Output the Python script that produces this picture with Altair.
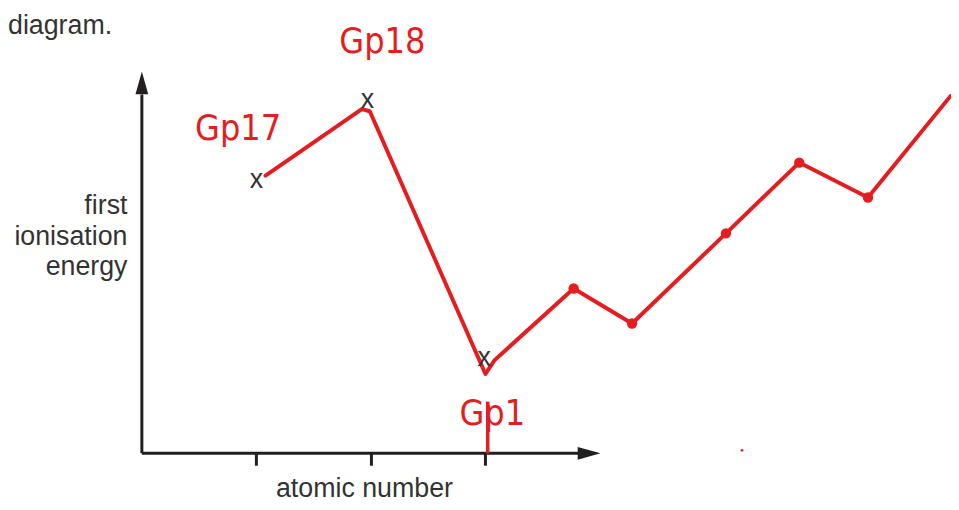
import altair as alt
import pandas as pd

# ---- data (x in atomic-number steps from the origin, y in arbitrary energy units) ----
cross_x = [1.0, 1.97, 2.99]
cross_y = [6.32, 8.16, 2.19]

red_x = [1.08, 1.92, 1.99, 3.00, 3.08, 3.77, 4.28, 5.10, 5.74, 6.34, 7.06]
red_y = [6.44, 7.98, 7.93, 1.84, 2.16, 3.82, 3.01, 5.10, 6.74, 5.93, 8.28]

dot_x = [3.77, 4.28, 5.10, 5.74, 6.34]
dot_y = [3.82, 3.01, 5.10, 6.74, 5.93]

labels = ["Gp17", "Gp18", "Gp1"]
label_x = [0.84, 2.10, 3.06]
label_y = [7.52, 9.54, 0.92]

tick_values = [1, 2, 3]
x_axis_end = 3.81
y_axis_end = 8.32
x_arrow = 3.905
y_arrow = 8.59

RED = "#e41e20"
INK = "#231f20"
TXT = "#333333"
FONT = "Liberation Sans"
HAND = "Liberation Sans Narrow, DejaVu Sans Condensed, DejaVu Sans, sans-serif"

xs = alt.Scale(domain=[0, 7.065], nice=False, zero=False)
ys = alt.Scale(domain=[0, 10], nice=False, zero=False)

df_cross = pd.DataFrame({"x": cross_x, "y": cross_y, "t": ["x"] * len(cross_x)})
df_red = pd.DataFrame({"x": red_x, "y": red_y, "i": list(range(len(red_x)))})
df_dot = pd.DataFrame({"x": dot_x, "y": dot_y})
df_lab = pd.DataFrame({"x": label_x, "y": label_y, "t": labels})

df_xaxis = pd.DataFrame({"x": [0.0], "x2": [x_axis_end], "y": [0.0]})
df_yaxis = pd.DataFrame({"x": [0.0], "y": [0.0], "y2": [y_axis_end]})

x_axis = alt.Axis(values=tick_values, domain=False, labels=False, grid=False,
                  ticks=True, tickSize=12, tickWidth=3, tickColor=INK,
                  title="atomic number", titleFont=FONT, titleFontSize=27,
                  titleFontWeight="normal", titleColor=TXT,
                  titleX=224, titleY=44, titleAnchor="middle", titleAlign="center",
                  titleBaseline="alphabetic")
y_axis = alt.Axis(domain=False, labels=False, ticks=False, grid=False,
                  title=["first", "ionisation", "energy"], titleFont=FONT,
                  titleFontSize=27, titleFontWeight="normal", titleColor=TXT,
                  titleAngle=0, titleAlign="right", titleBaseline="alphabetic",
                  titleX=-15, titleY=193, titleLineHeight=31)

xaxis_rule = alt.Chart(df_xaxis).mark_rule(color=INK, strokeWidth=3).encode(
    x=alt.X("x:Q", scale=xs, axis=x_axis), x2="x2:Q",
    y=alt.Y("y:Q", scale=ys, axis=y_axis))
yaxis_rule = alt.Chart(df_yaxis).mark_rule(color=INK, strokeWidth=3).encode(
    x=alt.X("x:Q", scale=xs), y=alt.Y("y:Q", scale=ys), y2="y2:Q")

arrow_x = alt.Chart(pd.DataFrame({"x": [x_arrow], "y": [0.0]})).mark_point(
    shape="M1,0L-1,-0.56L-1,0.56Z", filled=True, color=INK, size=529,
    opacity=1, strokeWidth=0).encode(
    x=alt.X("x:Q", scale=xs), y=alt.Y("y:Q", scale=ys))
arrow_y = alt.Chart(pd.DataFrame({"x": [0.0], "y": [y_arrow]})).mark_point(
    shape="M0,-1L0.56,1L-0.56,1Z", filled=True, color=INK, size=529,
    opacity=1, strokeWidth=0).encode(
    x=alt.X("x:Q", scale=xs), y=alt.Y("y:Q", scale=ys))

crosses = alt.Chart(df_cross).mark_text(font=FONT, fontSize=27, color=TXT,
                                        baseline="alphabetic", dy=7).encode(
    x=alt.X("x:Q", scale=xs), y=alt.Y("y:Q", scale=ys), text="t:N")

red_line = alt.Chart(df_red).mark_line(color=RED, strokeWidth=4, clip=True,
                                       strokeCap="round", strokeJoin="round").encode(
    x=alt.X("x:Q", scale=xs), y=alt.Y("y:Q", scale=ys), order="i:Q")

dots = alt.Chart(df_dot).mark_point(color=RED, filled=True, shape="circle",
                                    size=110, opacity=1).encode(
    x=alt.X("x:Q", scale=xs), y=alt.Y("y:Q", scale=ys))

gp1_stroke = alt.Chart(pd.DataFrame({"x": [3.02], "y": [0.0], "y2": [1.2]})).mark_rule(
    color=RED, strokeWidth=3.5).encode(
    x=alt.X("x:Q", scale=xs), y=alt.Y("y:Q", scale=ys), y2="y2:Q")

stray = alt.Chart(pd.DataFrame({"x": [5.24], "y": [0.07]})).mark_point(
    color=RED, filled=True, size=8, opacity=1).encode(
    x=alt.X("x:Q", scale=xs), y=alt.Y("y:Q", scale=ys))

hand = alt.Chart(df_lab).mark_text(font=HAND, fontSize=36, color=RED,
                                   baseline="middle", align="center").encode(
    x=alt.X("x:Q", scale=xs), y=alt.Y("y:Q", scale=ys), text="t:N")

caption = alt.Chart(pd.DataFrame({"t": ["diagram."]})).mark_text(
    font=FONT, fontSize=27, color=TXT, align="left", baseline="alphabetic").encode(
    x=alt.value(-135), y=alt.value(12), text="t:N")

chart = alt.layer(xaxis_rule, yaxis_rule, arrow_x, arrow_y, red_line, dots,
                  gp1_stroke, stray, crosses, hand, caption).properties(
    width=816, height=435,
    autosize=alt.AutoSizeParams(type="none"),
    padding={"left": 135, "top": 12, "right": 0, "bottom": 47},
    background="white",
).configure_view(strokeWidth=0)

chart.save("out.html", embed_options={"renderer": "svg", "actions": False})
